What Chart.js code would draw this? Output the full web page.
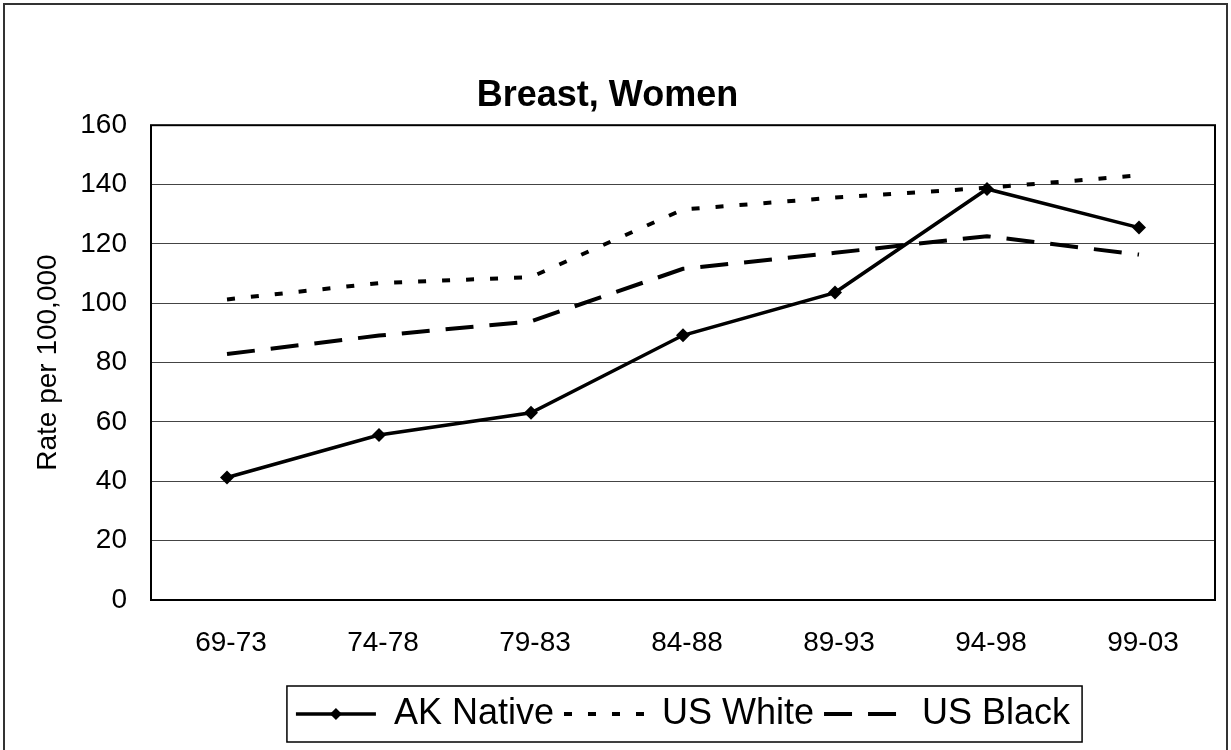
<!DOCTYPE html>
<html>
<head>
<meta charset="utf-8">
<script src="https://cdn.jsdelivr.net/npm/chart.js@4.4.1/dist/chart.umd.min.js"></script>
<style>
  body { margin: 0; background: #fff; }
  #contenedor { width: 1231px; height: 750px; position: relative; }
</style>
</head>
<body>
<div id="contenedor"><canvas id="grafico"></canvas></div>
<script>
/* DATOS */
const periodos = ["69-73", "74-78", "79-83", "84-88", "89-93", "94-98", "99-03"]
const akNative = [41.3, 55.6, 63.1, 89.2, 103.6, 138.5, 125.5]
const usWhite = [101.3, 106.8, 108.8, 131.6, 135.6, 138.9, 143.1]
const usBlack = [82.9, 89.1, 93.9, 111.6, 117.0, 122.6, 116.4]
const ticksY = [0, 20, 40, 60, 80, 100, 120, 140, 160]

const titulo = "Breast, Women"
const tituloEjeY = "Rate per 100,000"

Chart.defaults.font.family = "'Liberation Sans', Arial, sans-serif"
Chart.defaults.color = "#000"

/* marco exterior y borde del area del grafico */
const marcoPlugin = {
    id: "marco",
    beforeDraw(chart) {
        const ctx = chart.ctx
        ctx.save()
        ctx.fillStyle = "#fff"
        ctx.fillRect(0, 0, chart.width, chart.height)
        ctx.strokeStyle = "#333"
        ctx.lineWidth = 2
        ctx.strokeRect(4, 4, chart.width - 8, chart.height + 10)
        ctx.restore()
    },
    beforeDatasetsDraw(chart) {
        const a = chart.chartArea
        const ctx = chart.ctx
        ctx.save()
        ctx.strokeStyle = "#000"
        ctx.lineWidth = 2
        ctx.strokeRect(a.left, a.top, a.right - a.left, a.bottom - a.top)
        ctx.restore()
    }
}

/* caja de la leyenda y rombo del primer item */
const cajaLeyendaPlugin = {
    id: "cajaLeyenda",
    afterDraw(chart) {
        const cajas = chart.legend.legendHitBoxes
        if (!cajas || !cajas.length) return
        const ctx = chart.ctx
        const primera = cajas[0]
        const ultima = cajas[cajas.length - 1]
        const izq = primera.left - 9
        const der = ultima.left + ultima.width + 12
        const arriba = primera.top - 10
        const abajo = primera.top + primera.height + 10
        ctx.save()
        ctx.strokeStyle = "#000"
        ctx.lineWidth = 1.5
        ctx.strokeRect(izq, arriba, der - izq, abajo - arriba)
        // rombo en la muestra de AK Native
        const bw = chart.legend.options.labels.pointStyleWidth
        const cx = primera.left + bw / 2
        const cy = primera.top + primera.height / 2
        ctx.fillStyle = "#000"
        ctx.beginPath()
        ctx.moveTo(cx, cy - 6)
        ctx.lineTo(cx + 6, cy)
        ctx.lineTo(cx, cy + 6)
        ctx.lineTo(cx - 6, cy)
        ctx.closePath()
        ctx.fill()
        ctx.restore()
    }
}

const ctxGrafico = document.getElementById("grafico").getContext("2d")

const grafico = new Chart(ctxGrafico, {
    type: "line",
    data: {
        labels: periodos,
        datasets: [{
                label: "AK Native",
                data: akNative,
                borderColor: "#000",
                backgroundColor: "#000",
                borderWidth: 3.5,
                pointStyle: "rectRot",
                pointRadius: 7,
                pointBackgroundColor: "#000",
                pointBorderWidth: 0,
                tension: 0
            },
            {
                label: "US White",
                data: usWhite,
                borderColor: "#000",
                borderWidth: 4,
                borderDash: [8, 16],
                pointRadius: 0,
                tension: 0
            },
            {
                label: "US Black",
                data: usBlack,
                borderColor: "#000",
                borderWidth: 4,
                borderDash: [28, 16],
                pointRadius: 0,
                tension: 0
            }
        ]
    },
    options: {
        responsive: true,
        maintainAspectRatio: false,
        animation: false,
        layout: {
            padding: { top: 0, left: 0, right: 16, bottom: 8 }
        },
        plugins: {
            title: {
                display: true,
                text: titulo,
                font: { size: 36, weight: "bold" },
                padding: { top: 74, bottom: 8 }
            },
            legend: {
                position: "bottom",
                fullSize: false,
                labels: {
                    font: { size: 36 },
                    usePointStyle: true,
                    pointStyleWidth: 80,
                    padding: 10,
                    generateLabels: (chart) => chart.data.datasets.map((ds, i) => ({
                        text: ds.label,
                        strokeStyle: "#000",
                        fillStyle: "#000",
                        lineWidth: ds.borderWidth,
                        lineDash: ds.borderDash || [],
                        pointStyle: "line",
                        datasetIndex: i,
                        hidden: false
                    }))
                }
            },
            tooltip: { enabled: false }
        },
        scales: {
            x: {
                offset: true,
                grid: { display: false, drawTicks: false, offset: true },
                border: { display: false },
                ticks: { font: { size: 28 }, padding: 26, maxRotation: 0, labelOffset: 4 },
                afterFit(scale) { scale.height = 86 }
            },
            y: {
                min: 0,
                max: 160,
                grid: { color: "#444", lineWidth: 1, drawTicks: false },
                border: { display: false },
                ticks: { font: { size: 28 }, padding: 24 },
                afterBuildTicks(scale) { scale.ticks = ticksY.map(v => ({ value: v })) },
                title: {
                    display: true,
                    text: tituloEjeY,
                    font: { size: 28 },
                    padding: { top: 31, bottom: 0 }
                },
                afterFit(scale) { scale.width = 151 }
            }
        }
    },
    plugins: [marcoPlugin, cajaLeyendaPlugin]
})
</script>
</body>
</html>
